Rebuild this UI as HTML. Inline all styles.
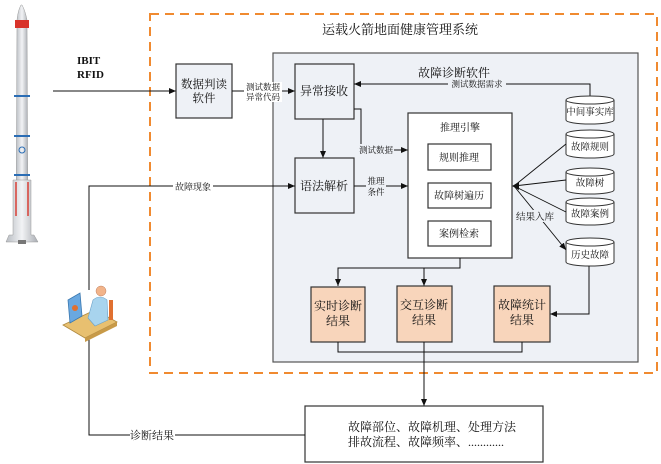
<!DOCTYPE html>
<html><head><meta charset="utf-8"><style>
html,body{margin:0;padding:0;background:#fff;}
svg{display:block;}
text{font-family:"Liberation Serif","Noto Serif CJK SC",serif;fill:#111;}
</style></head><body>
<svg width="661" height="464" viewBox="0 0 661 464" xmlns="http://www.w3.org/2000/svg">
<defs>
<marker id="a" markerWidth="8" markerHeight="8" refX="7" refY="4" orient="auto" markerUnits="userSpaceOnUse"><path d="M0,1 L7,4 L0,7 z" fill="#111"/></marker>
<linearGradient id="rk" x1="0" x2="1"><stop offset="0" stop-color="#b8bcc2"/><stop offset="0.5" stop-color="#f2f3f5"/><stop offset="1" stop-color="#a9adb3"/></linearGradient>
</defs>
<!-- rocket -->
<g>
<path d="M21,5 Q18,10 17,20 L16,240 L28,240 L27,20 Q25,10 22,5 z" fill="url(#rk)" stroke="#999" stroke-width="0.5"/>
<rect x="15" y="20" width="14" height="8" fill="#d8332a"/>
<rect x="14" y="95" width="16" height="2" fill="#2a6db5"/>
<rect x="14" y="135" width="16" height="2" fill="#2a6db5"/>
<rect x="14" y="174" width="16" height="2" fill="#2a6db5"/>
<rect x="14" y="218" width="16" height="2" fill="#2a6db5"/>
<path d="M13,180 L13,235 L9,235 L6,242 L38,242 L34,235 L31,235 L31,180 z" fill="url(#rk)" stroke="#999" stroke-width="0.5"/>
<g fill="#d8332a"><rect x="15" y="182" width="2" height="34" opacity="0.7"/><rect x="27" y="182" width="2" height="34" opacity="0.7"/></g>
<circle cx="22" cy="150" r="3" fill="none" stroke="#2a6db5"/>
<rect x="18" y="240" width="8" height="4" fill="#777"/>
</g>
<!-- orange dashed -->
<rect x="150" y="14" width="507" height="359" fill="none" stroke="#f08a30" stroke-width="2" stroke-dasharray="9,6"/>
<text x="400" y="34" font-size="13" text-anchor="middle">运载火箭地面健康管理系统</text>
<!-- gray box -->
<rect x="273" y="53" width="365" height="309" fill="#eef1f6" stroke="#555" stroke-width="1.2"/>
<text x="454" y="77" font-size="12" text-anchor="middle">故障诊断软件</text>
<!-- IBIT -->
<text x="77" y="64" font-size="11" font-weight="bold">IBIT</text>
<text x="77" y="78" font-size="11" font-weight="bold">RFID</text>
<line x1="53" y1="91" x2="176" y2="91" stroke="#111" marker-end="url(#a)"/>
<!-- boxes -->
<rect x="176" y="64" width="56" height="54" fill="#eef1f6" stroke="#333" stroke-width="1.2"/>
<text x="204" y="88" font-size="11.5" text-anchor="middle">数据判读</text>
<text x="204" y="102" font-size="11.5" text-anchor="middle">软件</text>
<line x1="232" y1="91" x2="295" y2="91" stroke="#111" marker-end="url(#a)"/>
<rect x="244" y="82" width="38" height="20" fill="#fff"/>
<text x="263" y="90" font-size="8.5" text-anchor="middle">测试数据</text>
<text x="263" y="100" font-size="8.5" text-anchor="middle">异常代码</text>
<rect x="295" y="64" width="59" height="55" fill="#eef1f6" stroke="#333" stroke-width="1.2"/>
<text x="324" y="95" font-size="12" text-anchor="middle">异常接收</text>
<line x1="323" y1="119" x2="323" y2="158" stroke="#111" marker-end="url(#a)"/>
<rect x="295" y="158" width="59" height="55" fill="#eef1f6" stroke="#333" stroke-width="1.2"/>
<text x="324" y="190" font-size="12" text-anchor="middle">语法解析</text>
<!-- 测试数据 -->
<polyline points="354,109 361,109 361,150 408,150" fill="none" stroke="#111" marker-end="url(#a)"/>
<rect x="357" y="144" width="37" height="12" fill="#eef1f6"/>
<text x="376" y="153" font-size="8.5" text-anchor="middle">测试数据</text>
<line x1="354" y1="186" x2="408" y2="186" stroke="#111" marker-end="url(#a)"/>
<rect x="366" y="176" width="20" height="22" fill="#eef1f6"/>
<text x="376" y="184" font-size="8.5" text-anchor="middle">推理</text>
<text x="376" y="195" font-size="8.5" text-anchor="middle">条件</text>
<!-- 推理引擎 -->
<rect x="408" y="113" width="104" height="145" fill="#fff" stroke="#333" stroke-width="1.2"/>
<text x="460" y="131" font-size="10" text-anchor="middle">推理引擎</text>
<rect x="428" y="144" width="63" height="26" fill="#fff" stroke="#333" stroke-width="1.2"/>
<text x="459" y="161" font-size="10" text-anchor="middle">规则推理</text>
<rect x="428" y="183" width="63" height="25" fill="#fff" stroke="#333" stroke-width="1.2"/>
<text x="459" y="199" font-size="10" text-anchor="middle">故障树遍历</text>
<rect x="428" y="221" width="63" height="25" fill="#fff" stroke="#333" stroke-width="1.2"/>
<text x="459" y="237" font-size="10" text-anchor="middle">案例检索</text>
<!-- 测试数据需求 -->
<polyline points="590,96 590,84 354,84" fill="none" stroke="#111" marker-end="url(#a)"/>
<rect x="448" y="78" width="58" height="12" fill="#eef1f6"/>
<text x="477" y="87" font-size="8.5" text-anchor="middle">测试数据需求</text>
<!-- cylinders -->
<g fill="#fff" stroke="#333" stroke-width="1">
<path d="M566,100 L566,120 A24,4 0 0 0 614,120 L614,100"/><ellipse cx="590" cy="100" rx="24" ry="4"/>
<path d="M566,134 L566,154 A24,4 0 0 0 614,154 L614,134"/><ellipse cx="590" cy="134" rx="24" ry="4"/>
<path d="M566,172 L566,190 A24,4 0 0 0 614,190 L614,172"/><ellipse cx="590" cy="172" rx="24" ry="4"/>
<path d="M566,202 L566,221 A24,4 0 0 0 614,221 L614,202"/><ellipse cx="590" cy="202" rx="24" ry="4"/>
<path d="M566,242 L566,262 A24,4 0 0 0 614,262 L614,242"/><ellipse cx="590" cy="242" rx="24" ry="4"/>
</g>
<g font-size="9.5" text-anchor="middle">
<text x="590" y="115">中间事实库</text>
<text x="590" y="150">故障规则</text>
<text x="590" y="186">故障树</text>
<text x="590" y="217">故障案例</text>
<text x="590" y="258">历史故障</text>
</g>
<!-- fan -->
<g stroke="#111" stroke-width="0.9" fill="none">
<line x1="514" y1="186" x2="566" y2="144"/>
<line x1="514" y1="186" x2="566" y2="180"/>
<line x1="514" y1="186" x2="566" y2="212"/>
<line x1="514" y1="186" x2="566" y2="250" marker-end="url(#a)"/>
</g>
<path d="M512,186 L519,182 L519,190 z" fill="#111"/>
<rect x="516" y="210" width="38" height="12" fill="#eef1f6"/>
<text x="535" y="220" font-size="9.5" text-anchor="middle">结果入库</text>
<!-- to results -->
<polyline points="460,258 460,268 338,268 338,286" fill="none" stroke="#111" marker-end="url(#a)"/>
<line x1="424" y1="268" x2="424" y2="286" stroke="#111" marker-end="url(#a)"/>
<polyline points="589,266 589,314 550,314" fill="none" stroke="#111" marker-end="url(#a)"/>
<g fill="#f8d5bb" stroke="#333" stroke-width="1.2">
<rect x="311" y="287" width="54" height="55"/>
<rect x="397" y="286" width="55" height="56"/>
<rect x="494" y="286" width="56" height="56"/>
</g>
<g font-size="12" text-anchor="middle">
<text x="338" y="310">实时诊断</text><text x="338" y="325">结果</text>
<text x="424" y="309">交互诊断</text><text x="424" y="324">结果</text>
<text x="522" y="309">故障统计</text><text x="522" y="324">结果</text>
</g>
<polyline points="338,342 338,352 522,352 522,342" fill="none" stroke="#111"/>
<line x1="424" y1="342" x2="424" y2="406" stroke="#111" marker-end="url(#a)"/>
<!-- bottom box -->
<rect x="305" y="406" width="238" height="56" fill="#fff" stroke="#333" stroke-width="1.2"/>
<text x="348" y="431" font-size="12">故障部位、故障机理、处理方法</text>
<text x="348" y="446" font-size="12">排故流程、故障频率、............</text>
<polyline points="305,435 89,435 89,330" fill="none" stroke="#111" marker-end="url(#a)"/>
<rect x="130" y="428" width="45" height="14" fill="#fff"/>
<text x="152" y="439" font-size="11" text-anchor="middle">诊断结果</text>
<!-- 故障现象 -->
<polyline points="89,290 89,186 295,186" fill="none" stroke="#111" marker-end="url(#a)"/>
<rect x="173" y="180" width="40" height="12" fill="#fff"/>
<text x="193" y="190" font-size="9" text-anchor="middle">故障现象</text>
<!-- person -->
<g>
<path d="M63,325 L95,310 L117,322 L85,338 z" fill="#e8c070" stroke="#b08a40" stroke-width="0.8"/>
<path d="M85,338 L117,322 L117,326 L85,342 z" fill="#c89a48"/>
<path d="M68,300 L80,293 L82,316 L70,323 z" fill="#6aa8e0" stroke="#3a78b0" stroke-width="0.8"/>
<circle cx="75" cy="308" r="3" fill="#e07030"/>
<path d="M93,300 Q100,294 107,300 L108,320 L95,326 L88,318 z" fill="#a8d4ee" stroke="#6aa0c8" stroke-width="0.6"/>
<circle cx="101" cy="291" r="5" fill="#f2b48a" stroke="#c08060" stroke-width="0.5"/>
<rect x="109" y="300" width="4" height="20" fill="#e07030"/>
</g>
</svg>
</body></html>
